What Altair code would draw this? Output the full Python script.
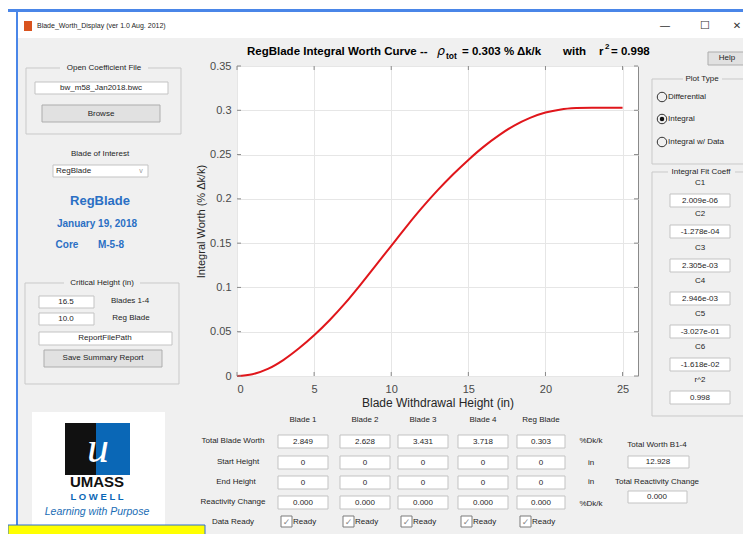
import altair as alt
import pandas as pd

# ---------------- data ----------------
heights = list(range(26))
worth = [0.0, 0.002, 0.008, 0.018, 0.031, 0.046, 0.063, 0.082, 0.103, 0.125,
         0.147, 0.169, 0.190, 0.2095, 0.2275, 0.244, 0.259, 0.272, 0.283, 0.2915,
         0.2975, 0.301, 0.3025, 0.303, 0.303, 0.303]
x_ticks = [0, 5, 10, 15, 20, 25]
y_ticks = [0, 0.05, 0.1, 0.15, 0.2, 0.25, 0.3, 0.35]

blades = ["Blade 1", "Blade 2", "Blade 3", "Blade 4", "Reg Blade"]
total_worth = ["2.849", "2.628", "3.431", "3.718", "0.303"]
start_height = ["0", "0", "0", "0", "0"]
end_height = ["0", "0", "0", "0", "0"]
reactivity_change = ["0.000", "0.000", "0.000", "0.000", "0.000"]
row_labels = ["Total Blade Worth", "Start Height", "End Height", "Reactivity Change", "Data Ready"]
units = ["%Dk/k", "in", "in", "%Dk/k"]
coeff_names = ["C1", "C2", "C3", "C4", "C5", "C6", "r^2"]
coeff_values = ["2.009e-06", "-1.278e-04", "2.305e-03", "2.946e-03", "-3.027e-01", "-1.618e-02", "0.998"]
total_worth_b14 = "12.928"
total_reactivity = "0.000"
rho_tot = "0.303"
r_squared = "0.998"
plot_types = ["Differential", "Integral", "Integral w/ Data"]

# ---------------- layout (screen pixels of the reference) ----------------
OX, OY = 237, 66          # plot-area origin on screen
PW, PH = 401, 310         # plot area size
FONT = "Liberation Sans"
BODY = "#f0f0f0"
EDGE = "#c9c9c9"
BTN, BTN_EDGE = "#e1e1e1", "#adadad"
FIELD_EDGE = "#c3c3c3"
BLUE_TXT = "#2a6fc4"

rects = []
def rect(x1, y1, x2, y2, fill="transparent", stroke="transparent"):
    rects.append(dict(x=x1 - OX, x2=x2 - OX, y=y1 - OY, y2=y2 - OY, fill=fill, stroke=stroke))

texts = []
def text(x, y, t, size=8, color="#1e1e1e", align="center", weight="normal", style="normal", font=FONT):
    texts.append(dict(x=x - OX, y=y - OY, text=t, size=size, color=color,
                      align=align, weight=weight, style=style, font=font))

# window frame
rect(8, 8, 743, 10, fill="white")
rect(8, 8, 16, 534, fill="white")
rect(5, 9, 743, 12, fill="#4a86e8")
rect(16, 12, 18, 534, fill="#4a86e8")
rect(18, 12, 743, 38, fill="white")
rect(24, 21, 32, 31, fill="#d9531e")
text(37, 26, "Blade_Worth_Display (ver 1.0  Aug. 2012)", size=7, align="left")
text(665, 26, "—", size=10, color="#333333")
text(705, 26, "☐", size=11, color="#333333", font="DejaVu Sans")
text(737, 26, "✕", size=10, color="#333333", font="DejaVu Sans")

# left panel: coefficient file
rect(26, 68, 181, 134, stroke=EDGE)
rect(60, 63, 148, 73, fill=BODY)
text(104, 68, "Open Coefficient File")
rect(35, 82, 168, 94, fill="white", stroke=FIELD_EDGE)
text(101, 88, "bw_m58_Jan2018.bwc")
rect(42, 105, 160, 122, fill=BTN, stroke=BTN_EDGE)
text(101, 114, "Browse")

# blade of interest
text(100, 154, "Blade of Interest")
rect(53, 165, 148, 177, fill="white", stroke=FIELD_EDGE)
text(56, 171, "RegBlade", align="left")
text(141, 171, "v", size=7, color="#9a9a9a")
text(100, 201, "RegBlade", size=13, color=BLUE_TXT, weight="bold")
text(97, 224, "January 19, 2018", size=10, color=BLUE_TXT, weight="bold")
text(67, 245, "Core", size=10, color=BLUE_TXT, weight="bold")
text(111, 245, "M-5-8", size=10, color=BLUE_TXT, weight="bold")

# critical height
rect(25, 283, 179, 384, stroke=EDGE)
rect(64, 278, 140, 288, fill=BODY)
text(102, 283, "Critical Height (in)")
rect(39, 296, 94, 308, fill="white", stroke=FIELD_EDGE)
text(66, 302, "16.5")
text(130, 301, "Blades 1-4")
rect(39, 313, 94, 325, fill="white", stroke=FIELD_EDGE)
text(66, 319, "10.0")
text(131, 318, "Reg Blade")
rect(39, 332, 172, 345, fill="white", stroke=FIELD_EDGE)
text(105, 338, "ReportFilePath")
rect(44, 350, 162, 367, fill=BTN, stroke=BTN_EDGE)
text(103, 358, "Save Summary Report")

# logo
rect(32, 412, 165, 528, fill="white")
rect(65, 423, 130, 475, fill="#111111")
rect(96, 423, 130, 475, fill="#0a67b6")
text(98, 449, "u", size=44, color="white", style="italic", font="Liberation Serif")
text(97, 482, "UMASS", size=15, color="#111111", weight="bold")
text(97, 497, "L O W E L L", size=9.5, color="#0a67b6", weight="bold")
text(97, 512, "Learning with Purpose", size=10.5, color="#1a6db5", style="italic")
rect(8, 525, 205, 536, fill="#ffff00", stroke="#2f6fd6")

# right panel
rect(708, 52, 745, 65, fill=BTN, stroke=BTN_EDGE)
text(727, 58, "Help")
rect(652, 79, 748, 164, stroke=EDGE)
rect(683, 74, 722, 84, fill=BODY)
text(702, 79, "Plot Type")
radio_y = [97, 119, 142]
for name, ry in zip(plot_types, radio_y):
    text(668, ry, name, align="left")
rect(652, 172, 748, 416, stroke=EDGE)
rect(668, 167, 735, 177, fill=BODY)
text(701, 172, "Integral Fit Coeff")
field_y = [200, 231, 265, 298, 331, 364, 397]
for name, val, fy in zip(coeff_names, coeff_values, field_y):
    text(700, fy - 17, name)
    rect(670, fy - 6, 730, fy + 7, fill="white", stroke=FIELD_EDGE)
    text(700, fy + 0.5, val)

# bottom table
col_x = [(278, 328), (340, 390), (398, 448), (458, 508), (517, 565)]
row_y = [441, 462, 482, 502]
label_x = [233, 238, 236, 233, 233]
for lab, lx, ly in zip(row_labels, label_x, row_y + [522]):
    text(lx, ly, lab)
for b, (x1, x2) in zip(blades, col_x):
    text((x1 + x2) / 2, 420, b)
for row_vals, ry in zip([total_worth, start_height, end_height, reactivity_change], row_y):
    for v, (x1, x2) in zip(row_vals, col_x):
        rect(x1, ry - 6, x2, ry + 7, fill="white", stroke=FIELD_EDGE)
        text((x1 + x2) / 2, ry + 0.5, v)
for (x1, x2) in col_x:
    bx = x1 + 3
    rect(bx, 516, bx + 11, 527, fill="white", stroke="#7a7a7a")
    text(bx + 5.5, 521.5, "✓", size=9, color="#8a8a8a", font="DejaVu Sans")
    text(bx + 12, 521.5, "Ready", align="left")
for u, uy in zip(units, [441, 463, 482, 504]):
    text(591, uy, u)
text(657, 445, "Total Worth B1-4")
rect(628, 456, 689, 468, fill="white", stroke=FIELD_EDGE)
text(658, 462, total_worth_b14)
text(657, 482, "Total Reactivity Change")
rect(628, 491, 687, 503, fill="white", stroke=FIELD_EDGE)
text(657, 497, total_reactivity)

# chart title pieces
TS = 11.5
text(247, 52, "RegBlade Integral Worth Curve  --", size=TS, weight="bold", color="black", align="left")
text(437, 51, "ρ", size=TS + 1, style="italic", color="black", align="left", font="DejaVu Sans")
text(446, 56, "tot", size=8.5, weight="bold", color="black", align="left")
text(462, 52, "= " + rho_tot + " % Δk/k", size=TS, weight="bold", color="black", align="left")
text(563, 52, "with", size=TS, weight="bold", color="black", align="left")
text(599, 52, "r", size=TS, weight="bold", color="black", align="left")
text(605, 47, "2", size=8, weight="bold", color="black", align="left")
text(611, 52, "= " + r_squared, size=TS, weight="bold", color="black", align="left")

rects_df = pd.DataFrame(rects)
texts_df = pd.DataFrame(texts)

# ---------------- layers ----------------
rect_layer = alt.Chart(rects_df).mark_rect(strokeWidth=1).encode(
    x=alt.X("x:Q", scale=None, axis=None),
    x2="x2:Q",
    y=alt.Y("y:Q", scale=None, axis=None),
    y2="y2:Q",
    fill=alt.Fill("fill:N", scale=None, legend=None),
    stroke=alt.Stroke("stroke:N", scale=None, legend=None),
)

radio_df = pd.DataFrame({"x": [662 - OX] * 3, "y": [ry - OY for ry in radio_y]})
radio_layer = alt.Chart(radio_df).mark_point(shape="circle", filled=False, size=90,
                                               color="#333333", strokeWidth=1, opacity=1).encode(
    x=alt.X("x:Q", scale=None, axis=None), y=alt.Y("y:Q", scale=None, axis=None))
dot_df = pd.DataFrame({"x": [662 - OX], "y": [radio_y[1] - OY]})
dot_layer = alt.Chart(dot_df).mark_point(shape="circle", filled=True, size=20,
                                         color="#111111", opacity=1).encode(
    x=alt.X("x:Q", scale=None, axis=None), y=alt.Y("y:Q", scale=None, axis=None))

text_layers = []
for (al, wt, st, fn), sub in texts_df.groupby(["align", "weight", "style", "font"]):
    text_layers.append(
        alt.Chart(sub).mark_text(align=al, baseline="middle", fontWeight=wt, fontStyle=st, font=fn).encode(
            x=alt.X("x:Q", scale=None, axis=None),
            y=alt.Y("y:Q", scale=None, axis=None),
            text="text:N",
            size=alt.Size("size:Q", scale=None, legend=None),
            color=alt.Color("color:N", scale=None, legend=None),
        )
    )

curve = pd.DataFrame({"h": heights, "w": worth})
xs = alt.Scale(domain=[0, 26], nice=False)
ys = alt.Scale(domain=[0, 0.35], nice=False)

line = alt.Chart(curve).mark_line(color="#e0161b", strokeWidth=2, interpolate="monotone").encode(
    x=alt.X("h:Q", scale=xs, axis=alt.Axis(
        values=x_ticks, title="Blade Withdrawal Height (in)", grid=True, gridColor="#e6e6e6",
        tickSize=0, domain=False, labelPadding=7, labelFontSize=11, labelColor="#4a4a4a",
        labelFont=FONT, titleFont=FONT, titleFontSize=12, titleFontWeight="normal",
        titleColor="#262626", titlePadding=3)),
    y=alt.Y("w:Q", scale=ys, axis=alt.Axis(
        values=y_ticks, format=".2~f", title="Integral Worth (% Δk/k)", grid=True, gridColor="#e6e6e6",
        tickSize=0, domain=False, labelPadding=6, labelFontSize=11, labelColor="#4a4a4a",
        labelFont=FONT, titleFont=FONT, titleFontSize=11, titleFontWeight="normal",
        titleColor="#262626", titlePadding=3)),
)

xt = pd.DataFrame({"t": x_ticks})
yt = pd.DataFrame({"t": y_ticks})
TICK = "#8a8a8a"
xtick_b = alt.Chart(xt).mark_rule(color=TICK).encode(
    x=alt.X("t:Q", scale=xs), y=alt.value(PH), y2=alt.value(PH - 4))
xtick_t = alt.Chart(xt).mark_rule(color=TICK).encode(
    x=alt.X("t:Q", scale=xs), y=alt.value(0), y2=alt.value(4))
ytick_l = alt.Chart(yt).mark_rule(color=TICK).encode(
    y=alt.Y("t:Q", scale=ys), x=alt.value(0), x2=alt.value(4))
ytick_r = alt.Chart(yt).mark_rule(color=TICK).encode(
    y=alt.Y("t:Q", scale=ys), x=alt.value(PW), x2=alt.value(PW - 4))

chart = alt.layer(
    rect_layer, radio_layer, dot_layer, *text_layers,
    line, xtick_b, xtick_t, ytick_l, ytick_r,
).properties(
    width=PW, height=PH,
    padding={"left": OX - 8, "top": OY - 8, "right": 743 - (OX + PW), "bottom": 534 - (OY + PH)},
    autosize=alt.AutoSizeParams(type="none"),
    background=BODY,
).configure_view(fill="white", stroke="#8a8a8a", strokeWidth=1)

chart.save("out.html", embed_options={"renderer": "svg", "actions": False})
